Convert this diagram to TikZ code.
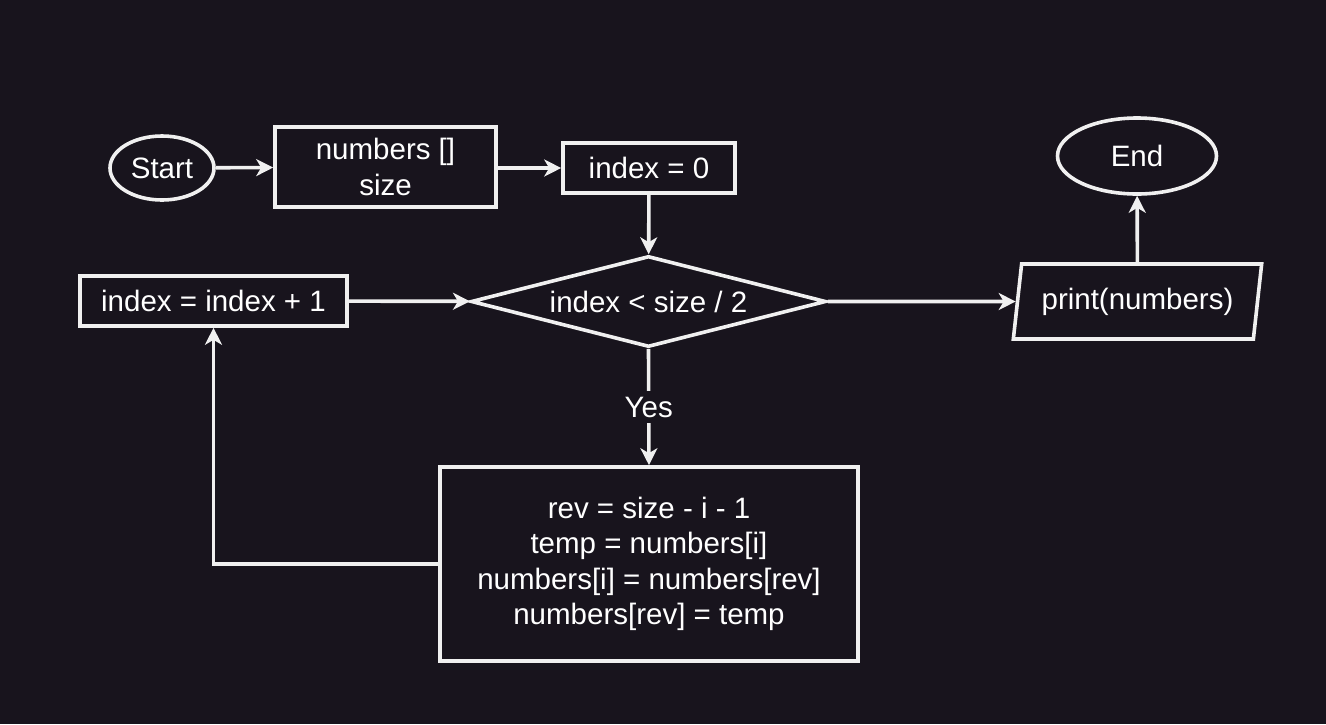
\documentclass[tikz,border=0pt]{standalone}
\usepackage{fontspec}
\setmainfont{Liberation Sans}
\usetikzlibrary{shapes.geometric,arrows.meta}
\definecolor{bg}{HTML}{18141D}
\definecolor{fg}{HTML}{F0F0F0}
\begin{document}
\begin{tikzpicture}[x=1pt,y=-1pt,
  every node/.style={font=\fontsize{29.5}{35.5}\selectfont, text=white, inner sep=0pt},
  shp/.style={draw=fg, line width=3.6pt, fill=bg},
  proc/.style={shp, rectangle},
  term/.style={shp, ellipse},
  arr/.style={draw=fg, line width=3.6pt, -{Stealth[length=17pt,width=17pt,inset=5pt]}},
  lnk/.style={draw=fg, line width=3.6pt}
]
\fill[bg] (0,0) rectangle (1326,724);
\useasboundingbox (0,0) rectangle (1326,724);

\node[term, minimum width=104pt, minimum height=64pt] (start) at (162,168) {Start};
\node[proc, minimum width=221pt, minimum height=80pt, align=center] (input) at (385.5,167) {numbers []\\size};
\node[proc, minimum width=172pt, minimum height=50pt] (init) at (649,168) {index = 0};
\node[shp, diamond, aspect=3.9, minimum width=355pt, minimum height=91pt] (cond) at (648.5,301.5) {index < size / 2};
\node[proc, minimum width=267pt, minimum height=50pt] (inc) at (213.5,301) {index = index + 1};
\node[proc, minimum width=418pt, minimum height=194pt, align=center] (body) at (649,564) {rev = size - i - 1\\temp = numbers[i]\\numbers[i] = numbers[rev]\\numbers[rev] = temp};
\node[shp, trapezium, trapezium left angle=76, trapezium right angle=104, trapezium stretches=true, minimum width=249pt, minimum height=75pt] (out) at (1137.5,301.5) {print(numbers)};
\node[term, minimum width=159pt, minimum height=76pt] (end) at (1137,156) {End};

\draw[arr] (start) -- (input);
\draw[arr] (input.east |- init) -- (init);
\draw[arr] (init) -- (cond);
\draw[arr] (inc) -- (cond);
\draw[arr] (cond) -- (out);
\draw[arr] (out) -- (end);
\draw[arr] (cond.south) -- node[fill=bg, inner ysep=6pt, inner xsep=2pt] (yes) {Yes} (body.north);
\draw[arr] (body.west) -| (inc.south);
\end{tikzpicture}
\end{document}
